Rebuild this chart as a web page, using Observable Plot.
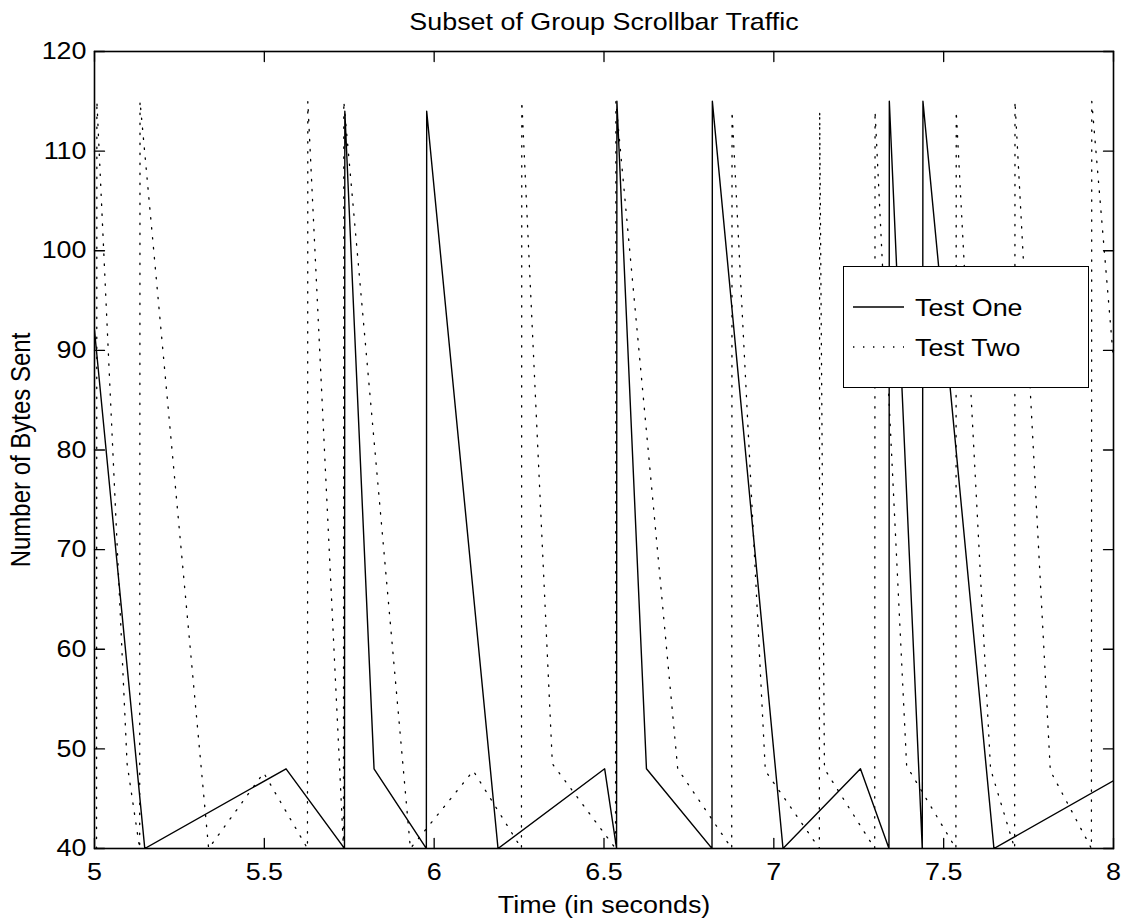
<!DOCTYPE html>
<html>
<head>
<meta charset="utf-8">
<script src="https://cdn.jsdelivr.net/npm/d3@7"></script>
<script src="https://cdn.jsdelivr.net/npm/@observablehq/plot@0.6"></script>
<style>
  html, body { margin: 0; padding: 0; background: #fff; }
  #wrap { position: relative; width: 1128px; height: 920px; font-family: "Liberation Sans", Arial, Helvetica, sans-serif; }
  #legend { position: absolute; left: 843px; top: 266px; width: 246px; height: 122px; background: #fff; border: 1.5px solid #000; box-sizing: border-box; }
</style>
</head>
<body>
<div id="wrap"></div>
<script>
// ---- data ----
const titleText = "Subset of Group Scrollbar Traffic";
const xLabel = "Time (in seconds)";
const yLabel = "Number of Bytes Sent";
const seriesNames = ["Test One", "Test Two"];

const xTicks = [5, 5.5, 6, 6.5, 7, 7.5, 8];
const yTicks = [40, 50, 60, 70, 80, 90, 100, 110, 120];

// Test One (solid)
const testOneTime = [5.000, 5.148, 5.564, 5.736, 5.737, 5.823, 5.977, 5.978, 6.188, 6.502, 6.537, 6.538, 6.625, 6.818, 6.819, 7.027, 7.255, 7.339, 7.340, 7.437, 7.439, 7.648, 8.000];
const testOneBytes = [92, 40, 48, 40, 114, 48, 40, 114, 40, 48, 40, 115, 48, 40, 115, 40, 48, 40, 115, 40, 115, 40, 46.8];

// Test Two (dotted)
const testTwoTime = [5.006, 5.007, 5.096, 5.133, 5.134, 5.336, 5.498, 5.627, 5.628, 5.733, 5.734, 5.930, 6.115, 6.257, 6.258, 6.348, 6.534, 6.535, 6.717, 6.876, 6.877, 6.975, 7.134, 7.135, 7.149, 7.297, 7.298, 7.391, 7.536, 7.537, 7.638, 7.709, 7.710, 7.814, 7.935, 7.936, 8.000];
const testTwoBytes = [40, 115, 48.5, 40, 115, 40, 47.6, 40, 115, 40, 115, 40, 47.8, 40, 115, 48.5, 40, 115, 48, 40, 114, 47.8, 40, 114, 48, 40, 114, 48.3, 40, 114, 48, 40, 115, 47.8, 40, 115, 89];

const testOne = testOneTime.map((t, i) => ({t, v: testOneBytes[i]}));
const testTwo = testTwoTime.map((t, i) => ({t, v: testTwoBytes[i]}));

const FONT = "'Liberation Sans', Arial, Helvetica, sans-serif";
const FS = 24;      // font size
const SX = 1.12;    // the reference text is drawn slightly wide
const tickShape = {draw(ctx, l) { ctx.moveTo(0, 0); ctx.lineTo(0, -l); }};
const tickLen = 10;

const chart = Plot.plot({
  width: 1128,
  height: 920,
  marginLeft: 94,
  marginRight: 15,
  marginTop: 51,
  marginBottom: 72,
  style: {fontFamily: FONT, fontSize: FS + "px", background: "#fff", color: "#000", overflow: "visible"},
  x: {domain: [5, 8], label: null},
  y: {domain: [40, 120], label: null},
  marks: [
    Plot.line(testTwo, {x: "t", y: "v", stroke: "#000", strokeWidth: 1.3, strokeDasharray: "1.4,8.6", clip: true}),
    Plot.line(testOne, {x: "t", y: "v", stroke: "#000", strokeWidth: 1.4, clip: true}),
    Plot.frame({stroke: "#000", strokeWidth: 1.6}),
    Plot.axisX({ticks: xTicks, tickSize: 0, tickPadding: 14, tickFormat: d => String(d), label: null, fontSize: FS}),
    Plot.axisY({ticks: yTicks, tickSize: 0, tickPadding: 8, tickFormat: d => String(d), label: null, fontSize: FS}),
    Plot.vector(xTicks, {x: d => d, frameAnchor: "bottom", length: tickLen, rotate: 0, anchor: "start", shape: tickShape, stroke: "#000", strokeWidth: 1.3}),
    Plot.vector(xTicks, {x: d => d, frameAnchor: "top", length: tickLen, rotate: 180, anchor: "start", shape: tickShape, stroke: "#000", strokeWidth: 1.3}),
    Plot.vector(yTicks, {y: d => d, frameAnchor: "left", length: tickLen, rotate: 90, anchor: "start", shape: tickShape, stroke: "#000", strokeWidth: 1.3}),
    Plot.vector(yTicks, {y: d => d, frameAnchor: "right", length: tickLen, rotate: -90, anchor: "start", shape: tickShape, stroke: "#000", strokeWidth: 1.3}),
    Plot.text([titleText], {text: d => d, frameAnchor: "top", lineAnchor: "middle", textAnchor: "middle", dy: -29, fontSize: FS}),
    Plot.text([xLabel], {text: d => d, frameAnchor: "bottom", lineAnchor: "middle", textAnchor: "middle", dy: 57, fontSize: FS}),
    Plot.text([yLabel], {text: d => d, frameAnchor: "left", lineAnchor: "middle", textAnchor: "middle", dx: -73, rotate: -90, fontSize: FS})
  ]
});

// widen all text horizontally (in picture space) around its anchor point;
// positions stay in Plot's transforms, em offsets in x/y attributes are left alone
d3.select(chart).selectAll("text").each(function() {
  const t = this.getAttribute("transform") || "";
  const rotated = /rotate\(\s*-?90/.test(t);
  this.setAttribute("transform", `${t} ${rotated ? `scale(1,${SX})` : `scale(${SX},1)`}`);
});

const wrap = document.getElementById("wrap");
wrap.appendChild(chart);

// legend (inside the axes, top-right)
const legend = document.createElement("div");
legend.id = "legend";
wrap.appendChild(legend);
const lsvg = d3.select(legend).append("svg").attr("width", 243).attr("height", 119).style("display", "block");
const styles = [{dash: null}, {dash: "1.4,8.6"}];
seriesNames.forEach((name, i) => {
  const cy = 40 + i * 40;
  lsvg.append("line").attr("x1", 9).attr("x2", 60).attr("y1", cy).attr("y2", cy)
    .attr("stroke", "#000").attr("stroke-width", 1.3)
    .attr("stroke-dasharray", styles[i].dash);
  lsvg.append("text").attr("transform", `translate(71,${cy + 9}) scale(${SX},1)`)
    .attr("font-family", FONT).attr("font-size", FS).attr("fill", "#000").text(name);
});
</script>
</body>
</html>
